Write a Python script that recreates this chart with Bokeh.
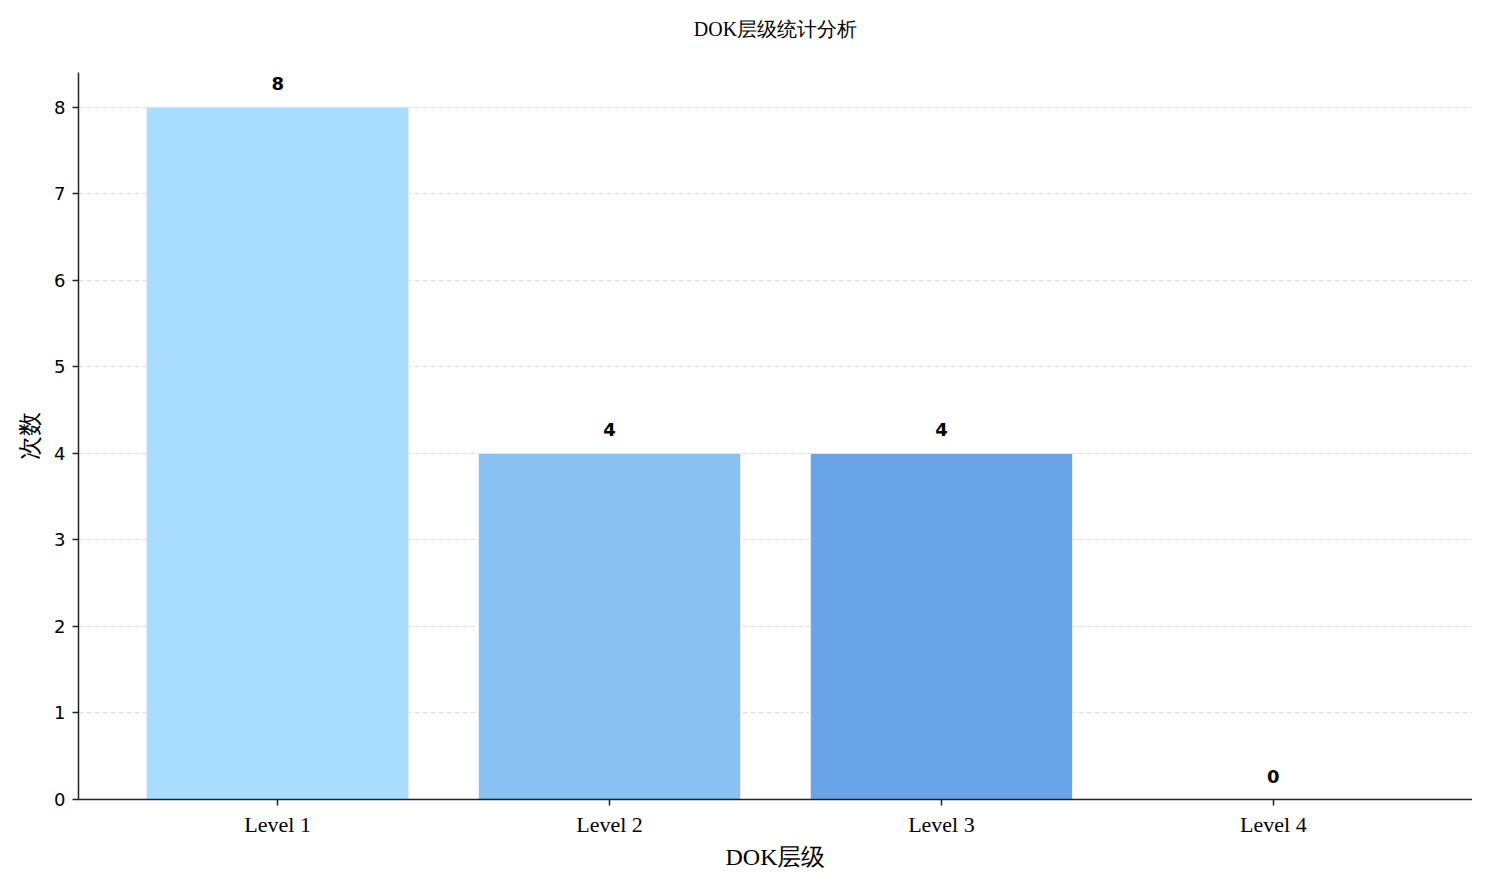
from bokeh.plotting import figure
from bokeh.models import ColumnDataSource, FixedTicker, Range1d, Title
from bokeh.core.properties import value
from bokeh.embed import file_html
from bokeh.resources import INLINE

title_text = "DOK层级统计分析"
categories = ["Level 1", "Level 2", "Level 3", "Level 4"]
counts = [8, 4, 4, 0]
colors = ["#a8ddfd", "#89c1f3", "#6aa4e8", "#4a86d8"]
y_ticks = [0, 1, 2, 3, 4, 5, 6, 7, 8]

xs = list(range(len(categories)))
src = ColumnDataSource(dict(x=xs, top=counts, color=colors,
                            label=[str(c) for c in counts]))

p = figure(width=1472, height=873, output_backend="svg", toolbar_location=None,
           x_range=Range1d(-0.6, 3.6), y_range=Range1d(0, 8.4),
           min_border_left=78, min_border_right=0, min_border_top=72, min_border_bottom=74)

p.title.text = title_text
p.title.align = "center"
p.title.text_font = "Liberation Serif"
p.title.text_font_size = "20px"
p.title.text_font_style = "normal"
p.title.text_color = "#000000"
p.title.offset = 0
p.title.standoff = 30

# empty spacer panel between the title and the plot frame
p.add_layout(Title(text=" ", text_font_size="1px", standoff=15), "above")

p.vbar(x="x", top="top", width=0.79, source=src, fill_color="color",
       line_color="#e8f0fa", line_width=1)
p.text(x="x", y="top", text="label", source=src, text_align="center",
       text_baseline="bottom", y_offset=-17, text_font=value("DejaVu Sans"),
       text_font_size="18px", text_font_style="bold", text_color="#000000")

p.outline_line_color = None
p.xgrid.grid_line_color = None
p.ygrid.grid_line_color = "#dedede"
p.ygrid.grid_line_dash = "5 3"
p.ygrid.grid_line_width = 1
p.ygrid.ticker = FixedTicker(ticks=y_ticks)

p.xaxis.ticker = FixedTicker(ticks=xs)
p.xaxis.major_label_overrides = {i: c for i, c in enumerate(categories)}
p.xaxis.major_label_text_font = "Liberation Serif"
p.xaxis.major_label_text_font_size = "22px"
p.xaxis.axis_label = "DOK层级"
p.xaxis.axis_label_text_font = "Liberation Serif"
p.xaxis.axis_label_text_font_size = "24px"
p.xaxis.axis_label_text_font_style = "normal"
p.xaxis.axis_label_standoff = 4
p.xaxis.major_label_standoff = 6

p.yaxis.ticker = FixedTicker(ticks=y_ticks)
p.yaxis.major_label_text_font = "DejaVu Sans"
p.yaxis.major_label_text_font_size = "18px"
p.yaxis.axis_label = "次数"
p.yaxis.axis_label_text_font = "Liberation Serif"
p.yaxis.axis_label_text_font_size = "24px"
p.yaxis.axis_label_text_font_style = "normal"
p.yaxis.axis_label_standoff = 8
p.yaxis.major_label_standoff = 7

for ax in (p.xaxis, p.yaxis):
    ax.axis_line_color = "#222222"
    ax.axis_line_width = 1.5
    ax.major_tick_line_color = "#222222"
    ax.major_tick_line_width = 1.5
    ax.major_tick_out = 6
    ax.major_tick_in = 0
    ax.minor_tick_line_color = None
    ax.major_label_text_color = "#000000"
    ax.axis_label_text_color = "#000000"

open("out.html", "w").write(file_html(p, INLINE))
